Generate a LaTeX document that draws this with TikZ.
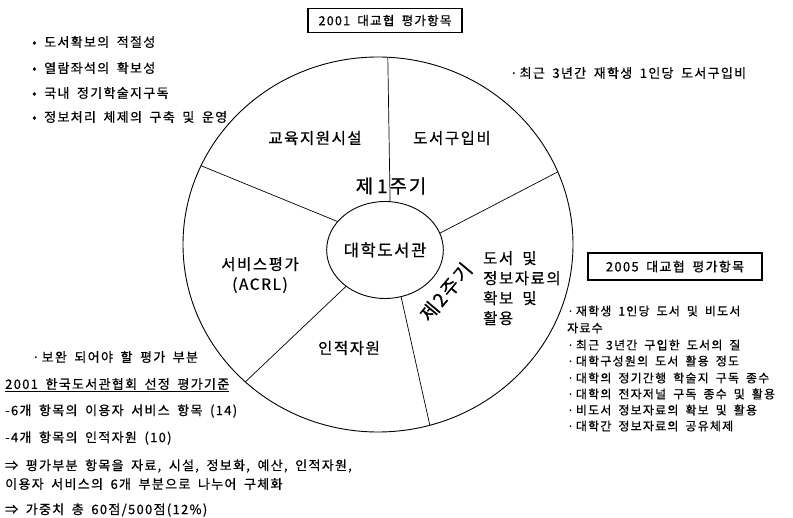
\documentclass[tikz,border=0pt]{standalone}
\usepackage{fontspec}
\setmainfont{Noto Sans CJK KR}[WordSpace=1.8, LetterSpace=10, FakeBold=0.6]
\usetikzlibrary{shapes.geometric}

\begin{document}
\begin{tikzpicture}[x=1pt, y=-1pt,
  item/.style={anchor=west, inner sep=0, font=\fontsize{13}{15}\selectfont},
  small item/.style={item, font=\fontsize{12}{14}\selectfont},
  part/.style={inner sep=0, align=center, font=\fontsize{15.5}{20}\selectfont},
  turn/.style={inner sep=0, font=\fontsize{19}{22}\selectfont},
  ring/.style={draw, ellipse, line width=0.9pt, inner sep=0, outer sep=0},
  headbox/.style={draw, line width=1.3pt, inner sep=0, font=\fontsize{12.5}{14}\selectfont}]
\useasboundingbox (0,0) rectangle (793,518);

\node [ring, minimum width=390, minimum height=375] (wheel) at (378,244.5) {};
\node [ring, minimum width=116, minimum height=97, font=\fontsize{16.5}{20}\selectfont] (hub) at (385,250) {대학도서관};
\draw [line width=0.7pt] (hub.84) -- (wheel.87);
\draw [line width=0.7pt] (hub.17) -- (wheel.22);
\draw [line width=0.7pt] (hub.149) -- (wheel.156);
\draw [line width=0.7pt] (hub.223) -- (wheel.226);
\draw [line width=0.7pt] (hub.289) -- (wheel.286);

\node [part] (p1) at (315,138) {교육지원시설};
\node [part] (p2) at (452,138) {도서구입비};
\node [part] (p3) at (260,275) {서비스평가\\(ACRL)};
\node [part] (p4) at (349,348) {인적자원};
\node [part, align=left, anchor=north west] (p5) at (483,251) {도서 및\\정보자료의\\확보 및\\활용};
\node [turn] (t1) at (391,186) {제\hspace{0.2em}1주기};
\node [turn, rotate=50] (t2) at (446,292) {제2주기};

\node [headbox, minimum width=154, minimum height=24] (h1) at (385,20.5) {2001 대교협 평가항목};
\node [headbox, minimum width=174, minimum height=27, font=\fontsize{13}{15}\selectfont] (h2) at (675,266.5) {2005 대교협 평가항목};

% 2001 left list
\node [item] (a1) at (32,42) {• 도서확보의 적절성};
\node [item] (a2) at (32,68) {• 열람좌석의 확보성};
\node [item] (a3) at (32,93) {• 국내 정기학술지구독};
\node [item] (a4) at (32,117) {• 정보처리 체제의 구축 및 운영};
\node [item] (b1) at (510,73) {·\,최근 3년간 재학생 1인당 도서구입비};

% 2005 list
\node [small item] (c1) at (567,311) {·\,재학생 1인당 도서 및 비도서};
\node [small item] (c2) at (567,328) {자료수};
\node [small item] (c3) at (567,345) {·\,최근 3년간 구입한 도서의 질};
\node [small item] (c4) at (567,361) {·\,대학구성원의 도서 활용 정도};
\node [small item] (c5) at (567,378) {·\,대학의 정기간행 학술지 구독 종수};
\node [small item] (c6) at (567,394) {·\,대학의 전자저널 구독 종수 및 활용};
\node [small item] (c7) at (567,410) {·\,비도서 정보자료의 확보 및 활용};
\node [small item] (c8) at (567,426) {·\,대학간 정보자료의 공유체제};

% bottom notes
\node [item] (d1) at (32,357) {·\,보완 되어야 할 평가 부분};
\node [item] (d2) at (5,385) {\underline{2001 한국도서관협회 선정 평가기준}};
\node [item] (d3) at (5,411) {-6개 항목의 이용자 서비스 항목 (14)};
\node [item] (d4) at (5,438) {-4개 항목의 인적자원 (10)};
\node [item] (d5) at (5,466) {⇒ 평가부분 항목을 자료, 시설, 정보화, 예산, 인적자원,};
\node [item] (d6) at (5,484) {이용자 서비스의 6개 부분으로 나누어 구체화};
\node [item] (d7) at (5,510) {⇒ 가중치 총 60점/500점(12\%)};
\end{tikzpicture}
\end{document}
